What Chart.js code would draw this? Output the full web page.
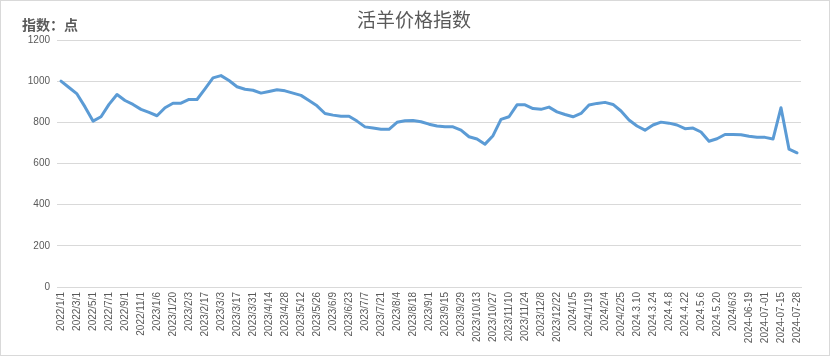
<!DOCTYPE html>
<html>
<head>
<meta charset="utf-8">
<script src="https://cdn.jsdelivr.net/npm/chart.js@4"></script>
<style>
  html, body { margin: 0; padding: 0; background: #ffffff; }
  canvas { display: block; }
</style>
</head>
<body>
<canvas id="c" width="831" height="357"></canvas>
<script>
const tickLabels = [
  "2022/1/1","2022/3/1","2022/5/1","2022/7/1","2022/9/1","2022/11/1",
  "2023/1/6","2023/1/20","2023/2/3","2023/2/17","2023/3/3","2023/3/17","2023/3/31","2023/4/14",
  "2023/4/28","2023/5/12","2023/5/26","2023/6/9","2023/6/23","2023/7/7","2023/7/21","2023/8/4",
  "2023/8/18","2023/9/1","2023/9/15","2023/9/29","2023/10/13","2023/10/27","2023/11/10","2023/11/24",
  "2023/12/8","2023/12/22","2024/1/5","2024/1/19","2024/2/4","2024/2/25","2024.3.10","2024.3.24",
  "2024.4.8","2024.4.22","2024.5.6","2024.5.20","2024/6/3","2024-06-19","2024-07-01","2024-07-15","2024-07-28"
];
const indexValues = [
  1000, 969, 938, 875, 806, 827, 887, 935, 906, 887,
  863, 848, 832, 871, 893, 893, 911, 911, 963, 1016,
  1027, 1003, 973, 961, 956, 942, 950, 958, 953, 942,
  931, 906, 880, 843, 835, 830, 830, 806, 778, 772,
  766, 766, 800, 808, 809, 803, 791, 782, 778, 778,
  762, 730, 719, 694, 735, 814, 827, 885, 885, 867,
  863, 874, 851, 838, 827, 843, 884, 892, 897, 887,
  855, 811, 782, 762, 787, 801, 796, 787, 769, 772,
  753, 708, 720, 741, 741, 740, 732, 727, 727, 719,
  871, 670, 652
];
const yTicks = [0, 200, 400, 600, 800, 1000, 1200];
const titleText = "活羊价格指数";
const unitText = "指数：点";

// categories: every data point; tick labels sit on every other point
const categories = indexValues.map((v, i) => (i % 2 === 0 ? (tickLabels[i / 2] || "") : ""));

const textPlugin = {
  id: "texts",
  afterDraw(chart) {
    const ctx = chart.ctx;
    ctx.save();
    ctx.fillStyle = "#595959";
    ctx.textBaseline = "middle";
    ctx.textAlign = "center";
    ctx.font = '19px "Noto Sans CJK SC"';
    ctx.fillText(titleText, 414, 20);
    ctx.textAlign = "left";
    ctx.font = 'bold 14px "Noto Sans CJK SC"';
    ctx.fillText(unitText, 22, 25);
    ctx.strokeStyle = "#d9d9d9";
    ctx.lineWidth = 1;
    ctx.strokeRect(0.5, 0.5, 829, 355);
    ctx.restore();
  }
};

new Chart(document.getElementById("c"), {
  type: "line",
  data: {
    labels: categories,
    datasets: [{
      data: indexValues,
      borderColor: "#5b9bd5",
      backgroundColor: "#5b9bd5",
      borderWidth: 3,
      pointRadius: 0,
      tension: 0,
      borderJoinStyle: "round",
      borderCapStyle: "round",
      fill: false
    }]
  },
  options: {
    responsive: false,
    animation: false,
    layout: { padding: { left: 0, right: 30, top: 40, bottom: 0 } },
    plugins: { legend: { display: false }, tooltip: { enabled: false }, title: { display: false } },
    scales: {
      x: {
        type: "category",
        offset: true,
        grid: { display: false, drawTicks: false },
        border: { display: true, color: "#d9d9d9", width: 1 },
        ticks: {
          autoSkip: false,
          maxRotation: 90,
          minRotation: 90,
          padding: 5,
          color: "#595959",
          font: { family: '"Liberation Sans", Arial, sans-serif', size: 10 }
        },
        afterFit(scale) { scale.height = 70; }
      },
      y: {
        min: 0,
        max: 1200,
        afterBuildTicks(scale) { scale.ticks = yTicks.map(v => ({ value: v })); },
        grid: { color: "#d9d9d9", drawTicks: false, lineWidth: 1 },
        border: { display: false },
        ticks: {
          padding: 7,
          color: "#595959",
          font: { family: '"Liberation Sans", Arial, sans-serif', size: 10 },
          callback: (v) => String(v)
        },
        afterFit(scale) { scale.width = 57; }
      }
    }
  },
  plugins: [textPlugin]
});
</script>
</body>
</html>
